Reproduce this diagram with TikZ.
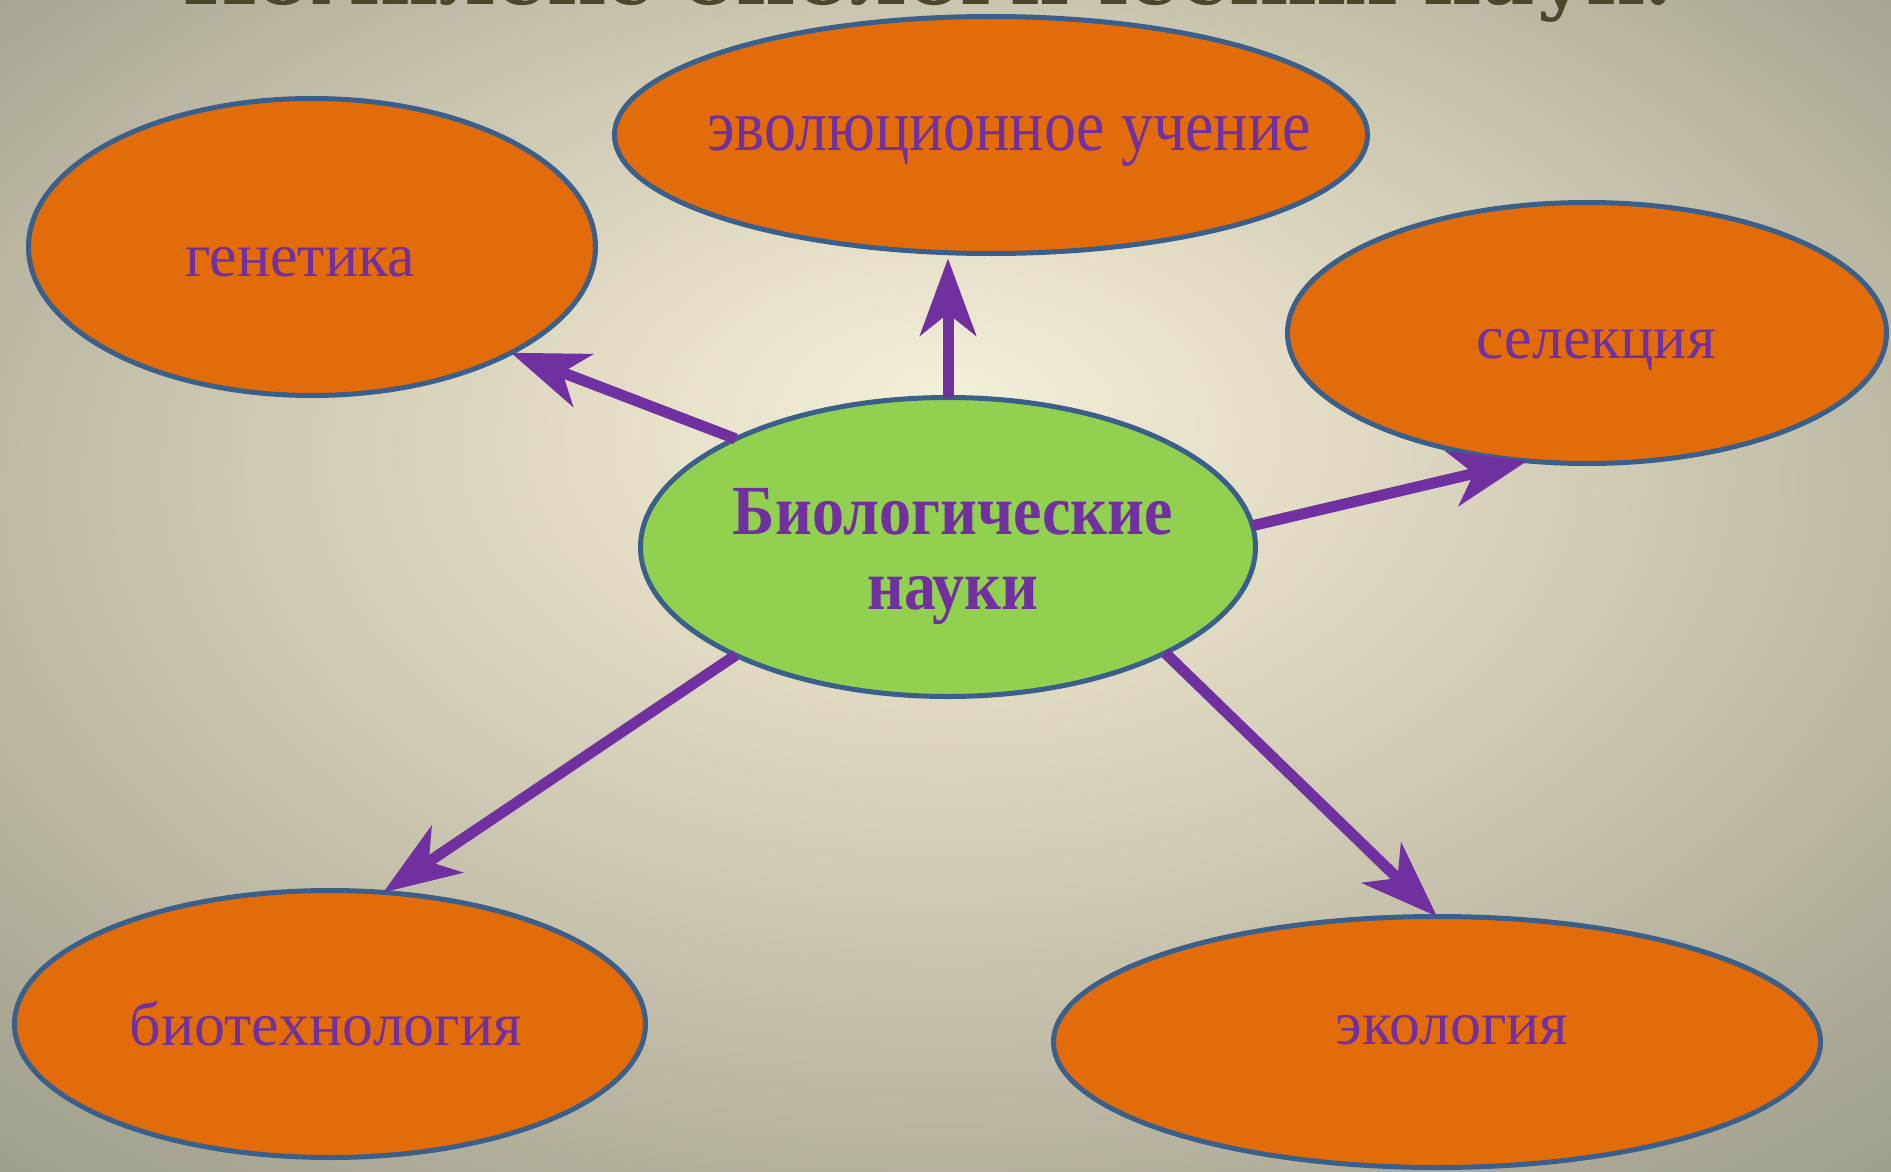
\documentclass[tikz,border=0pt]{standalone}
\usepackage{fontspec}
\usepackage{graphicx}
\setmainfont{Liberation Serif}
\newfontfamily\titlefont{DejaVu Serif}
\usetikzlibrary{arrows.meta,shapes.geometric}
\definecolor{orng}{HTML}{E36C0A}
\definecolor{grn}{HTML}{92D050}
\definecolor{brd}{HTML}{3A5F8B}
\definecolor{purp}{HTML}{7030A0}
\definecolor{ttl}{HTML}{4B4729}
\definecolor{bgA}{HTML}{F4EFD9}
\definecolor{bgB}{HTML}{E4DEC7}
\definecolor{bgC}{HTML}{C8C3AD}
\definecolor{bgD}{HTML}{A6A492}
\definecolor{bgE}{HTML}{8D8C7F}
\pgfdeclareradialshading{bgshade}{\pgfpoint{0bp}{8bp}}{color(0bp)=(bgA); color(9bp)=(bgB); color(21bp)=(bgC); color(34bp)=(bgD); color(47bp)=(bgE); color(50bp)=(bgE)}
\tikzset{
  bub/.style={ellipse, draw=brd, line width=5pt, fill=orng, inner sep=0pt, outer sep=0pt},
  lab/.style={anchor=base, text=purp, inner sep=0pt, font=\fontsize{62pt}{74pt}\selectfont},
  arr/.style={draw=purp, line width=11pt, -{Stealth[length=77pt,width=56pt,inset=22pt]}}
}
\begin{document}
\begin{tikzpicture}[x=1pt,y=-1pt]
\useasboundingbox (0,0) rectangle (1891,1172);
\clip (0,0) rectangle (1891,1172);
\shade[shading=bgshade] (0,0) rectangle (1891,1172);
\node[anchor=base, text=ttl, inner sep=0pt] (title) at (928,5) {\resizebox{1490pt}{!}{\titlefont\bfseries Комплекс биологических наук.}};
% ellipses
\node[bub, minimum width=567pt, minimum height=297pt] (gen) at (312,247) {};
\node[bub, minimum width=753pt, minimum height=237pt] (evo) at (991,135) {};
\node[bub, minimum width=599pt, minimum height=261pt] (sel) at (1587,333) {};
\node[bub, fill=grn, minimum width=615pt, minimum height=299pt] (c) at (948,547) {};
\node[bub, minimum width=631pt, minimum height=267pt] (bio) at (330,1024) {};
\node[bub, minimum width=767pt, minimum height=251pt] (eco) at (1437,1042) {};
% labels
\node[lab] (tgen) at (300,276) {генетика};
\node[lab, font=\fontsize{64pt}{76pt}\selectfont] (tevo) at (1009,150) {\scalebox{1}[1.15]{эволюционное учение}};
\node[lab] (tsel) at (1596,358) {селекция};
\node[lab] (tbio) at (326,1045) {биотехнология};
\node[lab] (teco) at (1452,1044) {экология};
\node[lab, font=\fontsize{64pt}{76pt}\selectfont\bfseries] (tc1) at (953,534) {\scalebox{1}[1.1]{Биологические}};
\node[lab, font=\fontsize{64pt}{76pt}\selectfont\bfseries] (tc2) at (953,609) {\scalebox{1}[1.1]{науки}};
% arrows
\draw[arr] (c.north) -- (c.north |- evo.south) [shorten >=5pt];
\draw[arr] (c.153.9) -- (gen.-28.2);
\draw[arr] (c.4.6) -- (sel.-115.7);
\draw[arr] (c.207.6) -- (bio.68.4);
\draw[arr] (c.-26.8) -- (eco.90.9);
\end{tikzpicture}
\end{document}
